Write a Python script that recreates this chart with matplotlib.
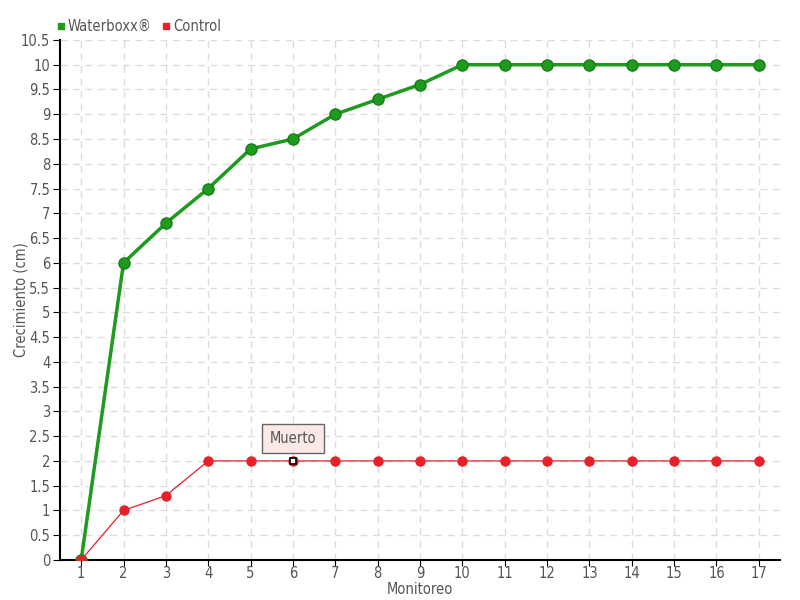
import matplotlib
matplotlib.use("Agg")
import matplotlib.pyplot as plt
from matplotlib.ticker import MultipleLocator, FormatStrFormatter

plt.rcParams['font.family'] = ['DejaVu Sans']
plt.rcParams['font.stretch'] = 'condensed'

monitoreo = list(range(1, 18))
waterboxx = [0, 6, 6.8, 7.5, 8.3, 8.5, 9, 9.3, 9.6, 10, 10, 10, 10, 10, 10, 10, 10]
control = [0, 1, 1.3, 2, 2, 2, 2, 2, 2, 2, 2, 2, 2, 2, 2, 2, 2]
muerto_idx = 5

green = '#1e9a1e'
red = '#e8202a'
txt = '#555555'

fig = plt.figure(figsize=(8, 6), dpi=100)
ax = fig.add_axes([0.075, 0.0667, 0.9, 0.8667])

ax.plot(monitoreo, waterboxx, color=green, lw=2.5, marker='o', ms=8,
        mfc=green, mec='#158015', mew=1, zorder=3)
ax.plot(monitoreo, control, color=red, lw=0.9, marker='o', ms=6.5,
        mfc=red, mec=red, zorder=4)
ax.plot(monitoreo[muerto_idx], control[muerto_idx], marker='s', ms=5,
        mfc='white', mec='black', mew=1.2, zorder=5, ls='none')
ax.annotate('Muerto', xy=(monitoreo[muerto_idx], control[muerto_idx]),
            xytext=(0, 16), textcoords='offset points', ha='center', va='center',
            fontsize=10.5, color=txt,
            bbox=dict(boxstyle='square,pad=0.5', fc='#fde8e8', ec='#666666', lw=1),
            zorder=6)

ax.set_xlim(0.5, 17.5)
ax.set_ylim(0, 10.5)
ax.xaxis.set_major_locator(MultipleLocator(1))
ax.yaxis.set_major_locator(MultipleLocator(0.5))
ax.yaxis.set_major_formatter(FormatStrFormatter('%g'))
ax.grid(True, color='#dddddd', ls=(0, (5, 4)), lw=1)
ax.set_axisbelow(True)
for s in ['top', 'right']:
    ax.spines[s].set_visible(False)
ax.spines['left'].set_linewidth(1.5)
ax.spines['bottom'].set_linewidth(1.5)
ax.tick_params(labelsize=10.5, colors=txt, length=5, pad=2)
ax.tick_params(axis='x', length=4, pad=0)
ax.tick_params(axis='both', color='black')

ax.set_xlabel('Monitoreo', fontsize=10.5, color=txt, va='top')
ax.set_ylabel('Crecimiento (cm)', fontsize=10.5, color=txt)
ax.xaxis.set_label_coords(0.5, -0.042)
ax.yaxis.set_label_coords(-0.044, 0.5)

leg = fig.legend(handles=[
    plt.Line2D([], [], marker='s', ls='none', color=green, ms=5, label='Waterboxx®'),
    plt.Line2D([], [], marker='s', ls='none', color=red, ms=5, label='Control')],
    loc='upper left', bbox_to_anchor=(0.052, 0.99), ncol=2, frameon=False,
    fontsize=10.5, handletextpad=0.1, columnspacing=0.6, handlelength=0.8)
for t in leg.get_texts():
    t.set_color(txt)

fig.savefig('out.png', dpi=100)
